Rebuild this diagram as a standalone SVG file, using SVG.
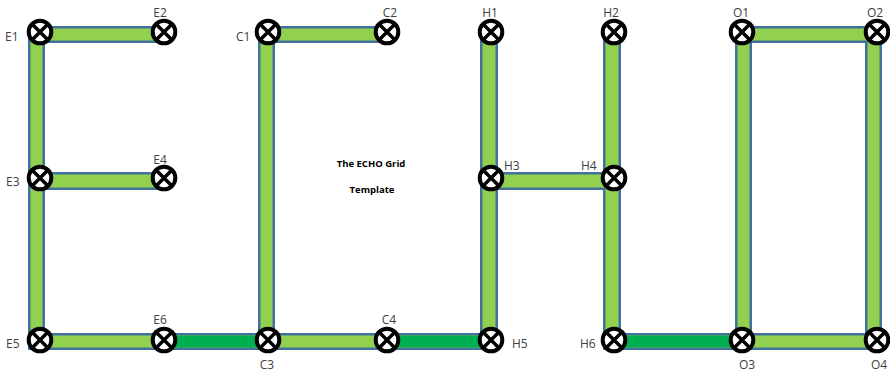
<svg xmlns="http://www.w3.org/2000/svg" width="890" height="373" viewBox="0 0 890 373">
<defs>
<style>
.b{fill:#41719C}
.g{fill:#92D050}
.d{fill:#00B050}
.lbl{font-family:"Open Sans","Liberation Sans",sans-serif;font-size:12px;fill:#404040}
.ttl{font-family:"Open Sans","Liberation Sans",sans-serif;font-size:9.5px;font-weight:bold;fill:#000;text-anchor:middle}
</style>
<g id="x"><circle r="11.3" fill="#fff" stroke="#000" stroke-width="4"/><path d="M-7,-7L7,7M7,-7L-7,7" stroke="#000" stroke-width="3.5" fill="none"/></g>
</defs>
<rect width="890" height="373" fill="#fff"/>
<g id="connectors">
<rect class="b" x="28" y="26" width="17" height="324"/>
<rect class="b" x="28" y="26" width="142" height="17"/>
<rect class="b" x="28" y="172" width="142" height="18"/>
<rect class="b" x="28" y="333" width="470" height="17"/>
<rect class="b" x="258" y="26" width="17" height="324"/>
<rect class="b" x="258" y="26" width="134" height="17"/>
<rect class="b" x="480" y="32" width="18" height="318"/>
<rect class="b" x="603" y="32" width="18" height="318"/>
<rect class="b" x="480" y="172" width="141" height="18"/>
<rect class="b" x="603" y="333" width="279" height="17"/>
<rect class="b" x="735" y="26" width="17" height="324"/>
<rect class="b" x="865" y="26" width="17" height="324"/>
<rect class="b" x="735" y="26" width="147" height="17"/>
<rect class="g" x="30.5" y="28.5" width="12" height="319"/>
<rect class="g" x="30.5" y="28.5" width="137" height="12"/>
<rect class="g" x="30.5" y="174.5" width="137" height="13"/>
<rect class="g" x="30.5" y="335.5" width="465" height="12"/>
<rect class="d" x="164" y="335.5" width="104" height="12"/>
<rect class="d" x="387" y="335.5" width="104" height="12"/>
<rect class="g" x="260.5" y="28.5" width="12" height="319"/>
<rect class="g" x="260.5" y="28.5" width="129" height="12"/>
<rect class="g" x="482.5" y="34" width="13" height="313.5"/>
<rect class="g" x="605.5" y="34" width="13" height="313.5"/>
<rect class="g" x="482.5" y="174.5" width="136" height="13"/>
<rect class="g" x="605.5" y="335.5" width="274" height="12"/>
<rect class="d" x="614" y="335.5" width="128" height="12"/>
<rect class="g" x="737.5" y="28.5" width="12" height="319"/>
<rect class="g" x="867.5" y="28.5" width="12" height="319"/>
<rect class="g" x="737.5" y="28.5" width="142" height="12"/>
</g>
<g id="E1"><use href="#x" x="40" y="32"/><text class="lbl" x="5" y="41">E1</text></g>
<g id="E2"><use href="#x" x="164" y="32"/><text class="lbl" x="160" y="17" text-anchor="middle">E2</text></g>
<g id="E3"><use href="#x" x="40" y="178"/><text class="lbl" x="6" y="186">E3</text></g>
<g id="E4"><use href="#x" x="164" y="178"/><text class="lbl" x="160" y="164" text-anchor="middle">E4</text></g>
<g id="E5"><use href="#x" x="40" y="340"/><text class="lbl" x="6" y="348">E5</text></g>
<g id="E6"><use href="#x" x="164" y="340"/><text class="lbl" x="160" y="324" text-anchor="middle">E6</text></g>
<g id="C1"><use href="#x" x="268" y="32"/><text class="lbl" x="236" y="41">C1</text></g>
<g id="C2"><use href="#x" x="387" y="32"/><text class="lbl" x="390" y="17" text-anchor="middle">C2</text></g>
<g id="C3"><use href="#x" x="268" y="340"/><text class="lbl" x="267" y="369" text-anchor="middle">C3</text></g>
<g id="C4"><use href="#x" x="387" y="340"/><text class="lbl" x="389" y="324" text-anchor="middle">C4</text></g>
<g id="H1"><use href="#x" x="491" y="32"/><text class="lbl" x="490" y="17" text-anchor="middle">H1</text></g>
<g id="H2"><use href="#x" x="614" y="32"/><text class="lbl" x="611" y="17" text-anchor="middle">H2</text></g>
<g id="H3"><use href="#x" x="491" y="178"/><text class="lbl" x="504" y="170">H3</text></g>
<g id="H4"><use href="#x" x="614" y="178"/><text class="lbl" x="581" y="170">H4</text></g>
<g id="H5"><use href="#x" x="491" y="340"/><text class="lbl" x="512" y="348">H5</text></g>
<g id="H6"><use href="#x" x="614" y="340"/><text class="lbl" x="580" y="348">H6</text></g>
<g id="O1"><use href="#x" x="742" y="32"/><text class="lbl" x="741" y="17" text-anchor="middle">O1</text></g>
<g id="O2"><use href="#x" x="877" y="32"/><text class="lbl" x="875" y="17" text-anchor="middle">O2</text></g>
<g id="O3"><use href="#x" x="742" y="340"/><text class="lbl" x="747" y="369" text-anchor="middle">O3</text></g>
<g id="O4"><use href="#x" x="877" y="340"/><text class="lbl" x="879" y="369" text-anchor="middle">O4</text></g>
<g id="title"><text class="ttl" x="371" y="167">The ECHO Grid</text><text class="ttl" x="372" y="193">Template</text></g>
</svg>
